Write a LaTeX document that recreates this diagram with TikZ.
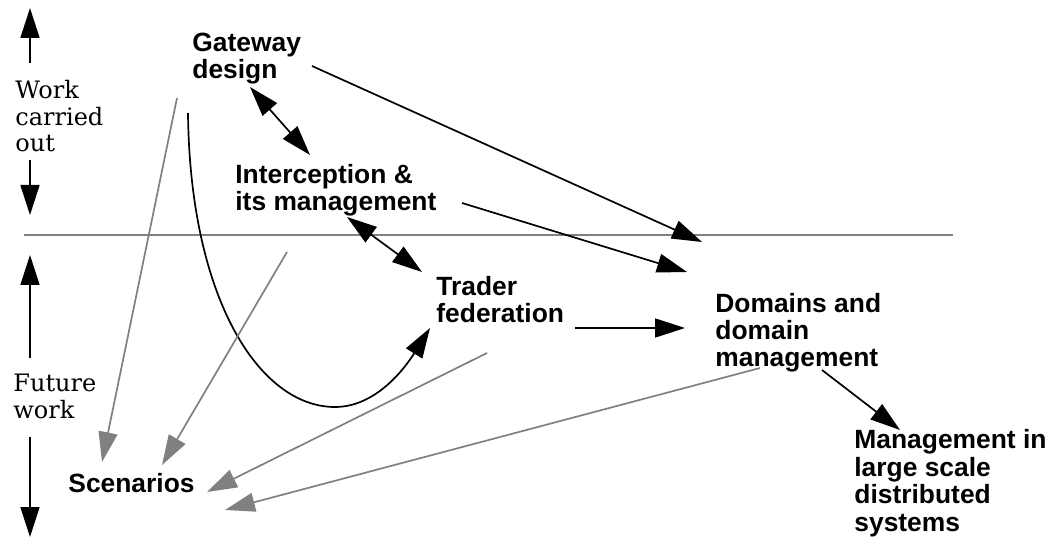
\documentclass[tikz,border=0pt]{standalone}
\usepackage{fontspec}
\setmainfont{DejaVu Serif}
\newfontfamily\labelfont{Liberation Sans}
\usepackage{tikz}
\usetikzlibrary{arrows.meta}
\usetikzlibrary{positioning}

\begin{document}
\begin{tikzpicture}[x=0.5pt,y=-0.5pt]
	\useasboundingbox (0,0) rectangle (1056,545);
	\begin{scope}[every node/.style={anchor=north west, inner sep=0pt, align=left,
	              font=\labelfont\bfseries\fontsize{13.2}{13.4}\selectfont}]
		\node (gw) at (192,33) {Gateway\\design};
		\node (ic) at (235,164) {Interception \&\\its management};
		\node (tf) at (436,276) {Trader\\federation};
		\node (dm) at (715,293) {Domains and\\domain\\management};
		\node (mg) at (854,429) [font=\labelfont\bfseries\fontsize{13.2}{13.8}\selectfont]
			{Management in\\large scale\\distributed\\systems};
		\node (sc) at (68,473) {Scenarios};
	\end{scope}
	\begin{scope}[every node/.style={anchor=north west, inner sep=0pt, align=left,
	              font=\fontsize{12}{13.25}\selectfont}]
		\node (wk) at (15,80) {Work\\carried\\out};
		\node (fw) at (13,374) {Future\\work};
	\end{scope}
	% line between done and future work
	\draw[gray, line width=0.8pt] (24,235) -- (953,235);
	\coordinate (dip) at (335,407);
	\begin{scope}[>={Triangle[length=15pt,width=9.5pt]},
	              every edge/.style={draw=black, line width=0.85pt}]
		\path ([shift={(15,-17)}]wk.north west) edge[->] ([shift={(15,-72)}]wk.north west);
		\path ([shift={(15,80)}]wk.north west) edge[->] ([shift={(15,135)}]wk.north west);
		\path ([shift={(17,-16)}]fw.north west) edge[->] ([shift={(17,-119)}]fw.north west);
		\path ([shift={(17,63)}]fw.north west) edge[->] ([shift={(17,163)}]fw.north west);
		\path ([shift={(58,54)}]gw.north west) edge[<->] ([shift={(75,-9)}]ic.north west);
		\path ([shift={(120,33)}]gw.north west) edge[->] ([shift={(-13,-51)}]dm.north west);
		\path ([shift={(227,39)}]ic.north west) edge[->] ([shift={(-28,-21)}]dm.north west);
		\path ([shift={(112,53)}]ic.north west) edge[<->] ([shift={(-14,-4)}]tf.north west);
		\path ([shift={(139,52)}]tf.north west) edge[->] ([shift={(-30,35)}]dm.north west);
		\path ([shift={(107,77)}]dm.north west) edge[->] ([shift={(46,1)}]mg.north west);
		\draw[->, line width=0.85pt] ([shift={(-4,80)}]gw.north west)
			.. controls +(2,187) and +(-75,0) .. (dip)
			.. controls +(45,0) and +(-20,32) .. ([shift={(-6,52)}]tf.north west);
	\end{scope}
	\begin{scope}[>={Triangle[length=15pt,width=9.5pt]},
	              every edge/.style={draw=gray, line width=0.85pt}]
		\path ([shift={(-15,65)}]gw.north west) edge[->] ([shift={(34,-11)}]sc.north west);
		\path ([shift={(52,88)}]ic.north west) edge[->] ([shift={(94,-8)}]sc.north west);
		\path ([shift={(51,77)}]tf.north west) edge[->] ([shift={(139,19)}]sc.north west);
		\path ([shift={(45,75)}]dm.north west) edge[->] ([shift={(157,37)}]sc.north west);
	\end{scope}
\end{tikzpicture}
\end{document}
